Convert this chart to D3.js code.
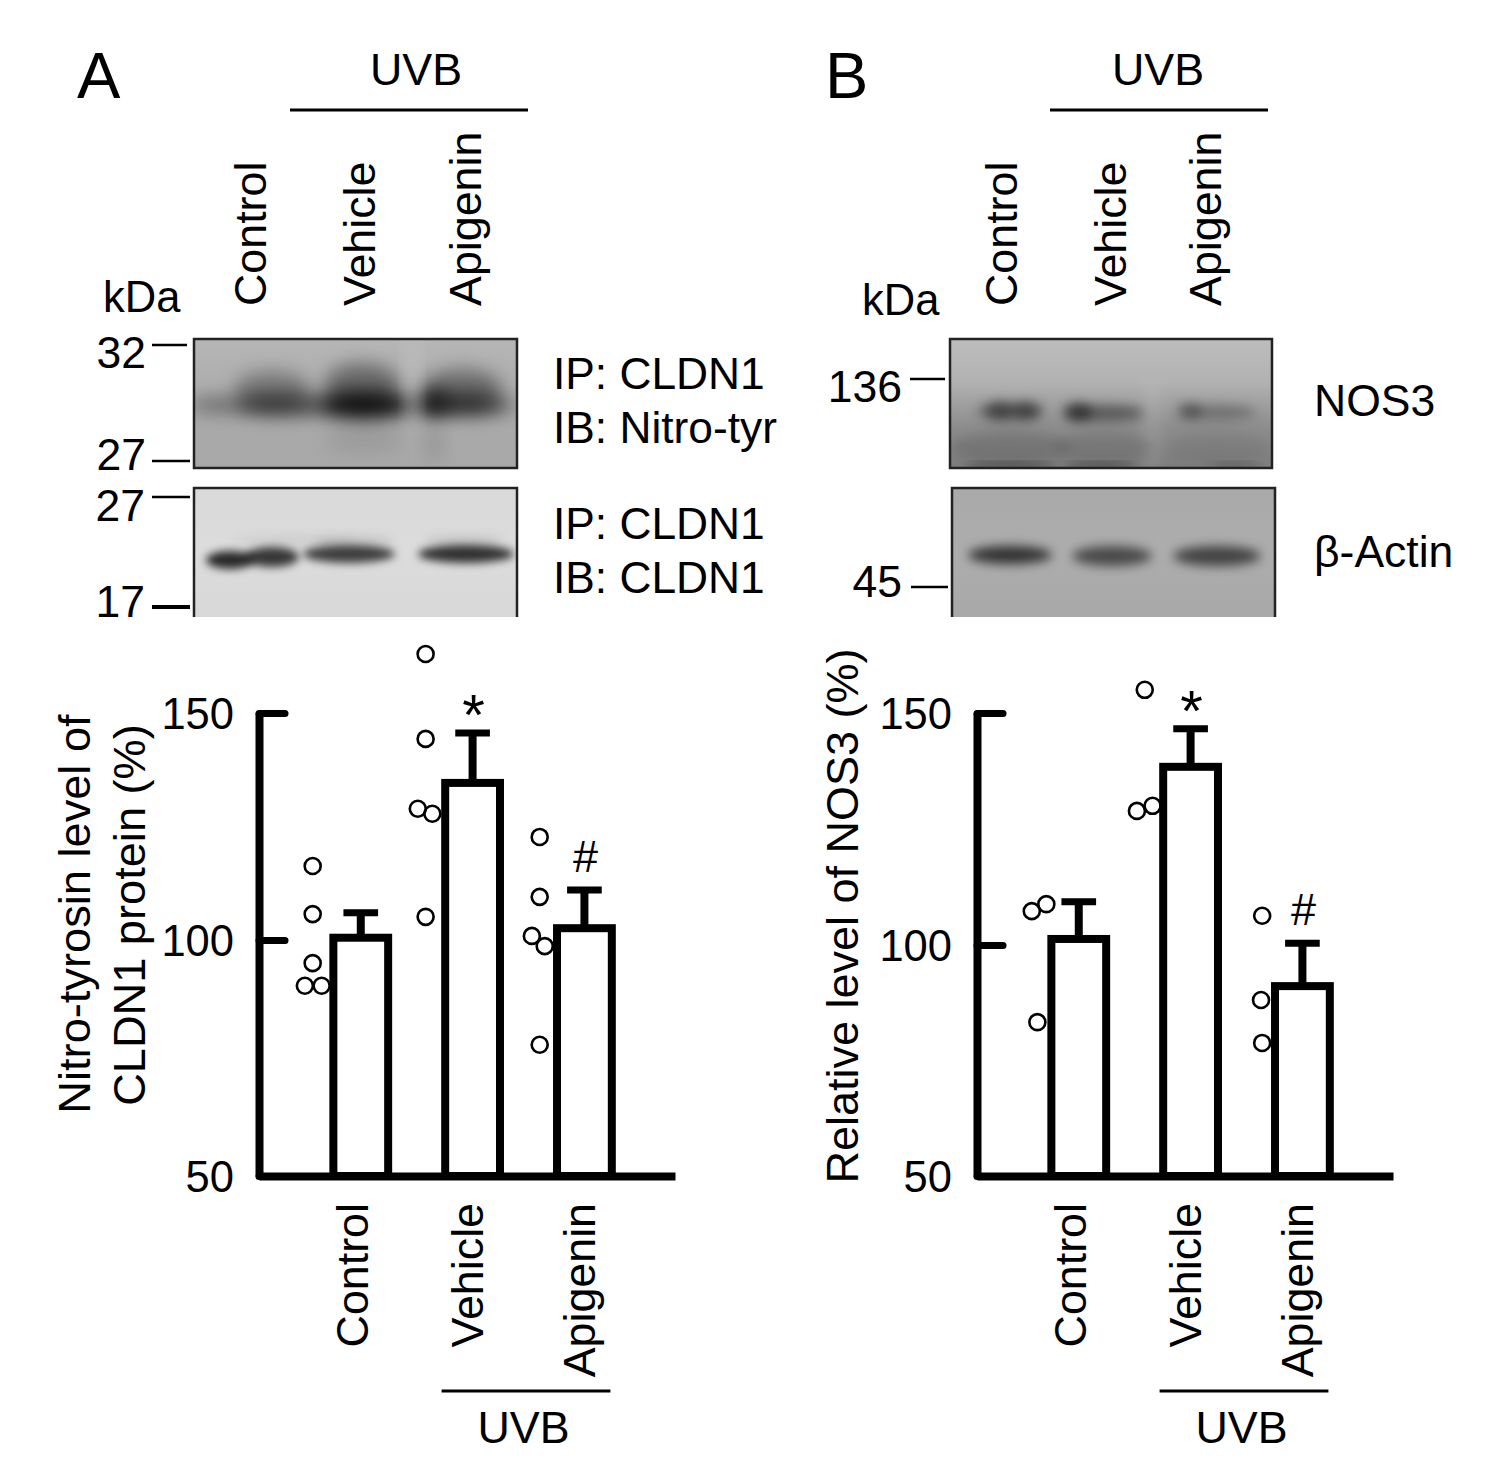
<!DOCTYPE html>
<html>
<head>
<meta charset="utf-8">
<title>Apigenin UVB</title>
<style>
  body { margin: 0; background: #fff; }
  text { font-family: "Liberation Sans", Arial, sans-serif; fill: #000; }
</style>
</head>
<body>
<script src="https://d3js.org/d3.v7.min.js"></script>
<script>
// categories and ticks
var categories = ["Control", "Vehicle", "Apigenin"];
var yTicks = [50, 100, 150];
var statMarks = ["", "*", "#"];

// panel A - nitro-tyrosin level
var barsA = [100.5, 134.6, 102.6];
var errorsA = [106, 145.6, 111];
var pointsValueA = [116.3, 105.7, 95.1, 90.3, 90.3, 163, 144.3, 128.9, 127.8, 105.1, 122.7, 109.5, 100.9, 98.7, 77.8];
var pointsGroupA = [0.57, 0.57, 0.57, 0.5, 0.65, 1.58, 1.58, 1.51, 1.64, 1.58, 2.6, 2.6, 2.53, 2.645, 2.6];

// panel B - relative NOS3
var barsB = [101.3, 138.4, 91.1];
var errorsB = [109.3, 146.6, 100.4];
var pointsValueB = [107.3, 108.8, 83.3, 155, 128.9, 130, 106.3, 88.1, 78.8];
var pointsGroupB = [0.58, 0.71, 0.63, 1.59, 1.52, 1.66, 2.64, 2.63, 2.64];

var svg = d3.select("body").append("svg")
  .attr("width", 1501)
  .attr("height", 1484)
  .style("display", "block");
var defs = svg.append("defs");

function addText(str, x, y, size, rotated, anchor) {
  var t = svg.append("text")
    .attr("font-size", size)
    .attr("text-anchor", anchor || "start")
    .text(str);
  if (rotated) t.attr("transform", "translate(" + x + "," + y + ") rotate(-90)");
  else t.attr("x", x).attr("y", y);
  return t;
}

function addLine(x1, x2, y, w) {
  svg.append("line")
    .attr("x1", x1).attr("x2", x2)
    .attr("y1", y).attr("y2", y)
    .attr("stroke", "#000")
    .attr("stroke-width", w);
}

// western blot strips, smudges are [cx, cy, rx, ry, opacity] inside the strip
function drawBlot(id, x, y, w, h, colors, blur, smudges, closedBottom) {
  var grad = defs.append("linearGradient").attr("id", id + "g")
    .attr("x1", 0).attr("x2", 0).attr("y1", 0).attr("y2", 1);
  colors.forEach(function(c, i) {
    grad.append("stop").attr("offset", i / (colors.length - 1)).attr("stop-color", c);
  });
  defs.append("clipPath").attr("id", id + "c")
    .append("rect").attr("width", w).attr("height", h);
  defs.append("filter").attr("id", id + "f")
    .attr("x", "-50%").attr("y", "-100%").attr("width", "200%").attr("height", "300%")
    .append("feGaussianBlur").attr("stdDeviation", blur);

  var g = svg.append("g").attr("transform", "translate(" + x + "," + y + ")");
  var inner = g.append("g").attr("clip-path", "url(#" + id + "c)");
  inner.append("rect").attr("width", w).attr("height", h).attr("fill", "url(#" + id + "g)");
  inner.selectAll("ellipse").data(smudges).enter().append("ellipse")
    .attr("cx", function(d) { return d[0]; })
    .attr("cy", function(d) { return d[1]; })
    .attr("rx", function(d) { return d[2]; })
    .attr("ry", function(d) { return d[3]; })
    .attr("fill", function(d) { return d[4] < 0 ? "#fff" : "#000"; })
    .attr("fill-opacity", function(d) { return Math.abs(d[4]); })
    .attr("filter", "url(#" + id + "f)");

  var outline = closedBottom
    ? "M0," + h + "V0H" + w + "V" + h + "Z"
    : "M0," + h + "V0H" + w + "V" + h;
  g.append("path").attr("d", outline)
    .attr("fill", "none")
    .attr("stroke", "#222")
    .attr("stroke-width", 2.5);
}

drawBlot("a1", 194, 339, 323, 129, ["#b6b6b6", "#aaaaaa", "#a8a8a8"], 9, [
  [160, 66, 170, 9, 0.28],
  [20, 66, 20, 8, 0.2],
  [78, 50, 38, 18, 0.3], [84, 66, 46, 10, 0.5],
  [168, 46, 38, 22, 0.4], [170, 66, 46, 13, 0.85],
  [268, 50, 40, 20, 0.38], [270, 66, 44, 10, 0.58], [240, 64, 13, 14, 0.65],
  [170, 100, 40, 14, 0.08], [240, 105, 10, 18, 0.1],
  [218, 40, 7, 50, -0.15]
], true);

drawBlot("a2", 194, 488, 323, 129, ["#d9d9d9", "#dcdcdc", "#d8d8d8"], 4.5, [
  [36, 72, 24, 9, 0.82], [78, 69, 27, 10, 0.75],
  [155, 66, 46, 9, 0.72], [272, 66, 48, 9, 0.78],
  [100, 52, 60, 6, 0.05], [160, 52, 40, 6, 0.08], [270, 52, 40, 6, 0.08]
], false);

drawBlot("b1", 950, 339, 322, 129, ["#bdbdbd", "#b2b2b2", "#8e8e8e", "#7c7c7c"], 6, [
  [50, 72, 14, 9, 0.42], [76, 72, 14, 9, 0.42], [60, 72, 34, 8, 0.3],
  [128, 73, 14, 9, 0.5], [155, 74, 40, 8, 0.42],
  [240, 72, 12, 8, 0.32], [268, 73, 38, 7, 0.28],
  [60, 108, 60, 16, 0.12], [155, 108, 50, 16, 0.1], [268, 108, 50, 16, 0.06],
  [60, 127, 46, 2, 0.8], [150, 127, 36, 2, 0.8], [285, 127, 26, 2, 0.45],
  [202, 90, 10, 50, -0.08]
], true);

drawBlot("b2", 952, 488, 323, 129, ["#a9a9a9", "#adadad", "#a8a8a8"], 5.5, [
  [58, 67, 42, 9, 0.72], [160, 68, 40, 10, 0.58], [265, 68, 44, 10, 0.62]
], false);

// panel letters and header text
addText("A", 77, 98, 65);
addText("B", 825, 98, 65);
addText("UVB", 370, 85, 44.8);
addLine(290, 528, 110, 3);
addText("UVB", 1112, 85, 44.8);
addLine(1050, 1268, 110, 3);

var headerXA = [266, 375, 481];
var headerXB = [1017, 1126, 1221];
categories.forEach(function(c, i) {
  addText(c, headerXA[i], 306, 44.8, true);
  addText(c, headerXB[i], 306, 44.8, true);
});

addText("kDa", 103, 312, 43.5);
addText("kDa", 862, 315, 43.5);

// molecular weight markers
addText("32", 146, 368, 44.5, false, "end");
addLine(152, 187, 345, 2.5);
addText("27", 146, 470, 44.5, false, "end");
addLine(152, 190, 461, 2.5);
addText("27", 145, 521, 44.5, false, "end");
addLine(152, 190, 497, 2.5);
addText("17", 145, 617, 44.5, false, "end");
addLine(152, 190, 607, 4);
addText("136", 902, 402, 44.5, false, "end");
addLine(910, 945, 379, 2.5);
addText("45", 902, 597, 44.5, false, "end");
addLine(911, 948, 587, 2.5);

// blot names
addText("IP: CLDN1", 553, 389, 44.3);
addText("IB: Nitro-tyr", 553, 443, 44.3);
addText("IP: CLDN1", 553, 539, 44.3);
addText("IB: CLDN1", 553, 593, 44.3);
addText("NOS3", 1314, 416, 44.5);
addText("β-Actin", 1314, 567, 44.5);

// y labels
addText("Nitro-tyrosin level of", 90, 914, 45.2, true, "middle");
addText("CLDN1 protein (%)", 145, 915, 45.2, true, "middle");
addText("Relative level of NOS3 (%)", 858, 916, 45, true, "middle");

function drawChart(left, right, yStops, bars, errors, pointsGroup, pointsValue) {
  var x = d3.scaleLinear().domain([0.09, 3.81]).range([left, right]);
  var y = d3.scaleLinear().domain(yTicks).range(yStops);
  var base = y(50);
  var barW = x(1.49) - x(1);
  var capW = x(1.155) - x(1);
  var groups = d3.range(1, categories.length + 1);

  var chart = svg.append("g");

  // points go under the bars, bars cut them off
  chart.selectAll("circle").data(pointsValue).enter().append("circle")
    .attr("cx", function(d, i) { return x(pointsGroup[i]); })
    .attr("cy", function(d) { return y(d); })
    .attr("r", 8)
    .attr("fill", "none")
    .attr("stroke", "#000")
    .attr("stroke-width", 2.6);

  chart.selectAll("line.stem").data(errors).enter().append("line")
    .attr("class", "stem")
    .attr("x1", function(d, i) { return x(groups[i]); })
    .attr("x2", function(d, i) { return x(groups[i]); })
    .attr("y1", function(d) { return y(d); })
    .attr("y2", function(d, i) { return y(bars[i]); })
    .attr("stroke", "#000")
    .attr("stroke-width", 8);

  chart.selectAll("line.cap").data(errors).enter().append("line")
    .attr("class", "cap")
    .attr("x1", function(d, i) { return x(groups[i]) - capW; })
    .attr("x2", function(d, i) { return x(groups[i]) + capW; })
    .attr("y1", function(d) { return y(d); })
    .attr("y2", function(d) { return y(d); })
    .attr("stroke", "#000")
    .attr("stroke-width", 7);

  chart.selectAll("rect").data(bars).enter().append("rect")
    .attr("x", function(d, i) { return x(groups[i]) - barW / 2; })
    .attr("y", function(d) { return y(d); })
    .attr("width", barW)
    .attr("height", function(d) { return base - y(d); })
    .attr("fill", "#fff")
    .attr("stroke", "#000")
    .attr("stroke-width", 8);

  chart.selectAll("text.stat").data(statMarks).enter().append("text")
    .attr("class", "stat")
    .attr("text-anchor", "middle")
    .attr("font-size", function(d) { return d === "*" ? 58 : 45; })
    .attr("x", function(d, i) { return x(groups[i]) + 1; })
    .attr("y", function(d, i) { return y(errors[i]) + (d === "*" ? 2 : -18); })
    .text(function(d) { return d; });

  // axes
  var yAxis = d3.axisLeft(y)
    .tickValues(yTicks)
    .tickSize(-26)
    .tickSizeOuter(0)
    .tickPadding(25)
    .tickFormat(d3.format("d"));
  var gy = svg.append("g").attr("transform", "translate(" + left + ",0)").call(yAxis);
  gy.select(".domain").attr("stroke-width", 8);
  gy.selectAll(".tick line").attr("stroke-width", 7).attr("stroke-linecap", "round");
  gy.selectAll(".tick text")
    .attr("font-size", 43.5)
    .attr("font-family", "Liberation Sans")
    .attr("dy", "0.36em");

  var xAxis = d3.axisBottom(x)
    .tickValues(groups)
    .tickSize(0)
    .tickSizeOuter(0)
    .tickFormat(function(d) { return categories[d - 1]; });
  var gx = svg.append("g").attr("transform", "translate(0," + base + ")").call(xAxis);
  gx.select(".domain").attr("stroke-width", 8);
  gx.selectAll(".tick text")
    .attr("font-size", 44.8)
    .attr("font-family", "Liberation Sans")
    .attr("text-anchor", "end")
    .attr("dy", 0)
    .attr("y", 0)
    .attr("transform", function(d) { return "translate(" + (d === 1 ? 7 : 10) + ",27) rotate(-90)"; });

  // UVB bracket under the treated groups
  addLine(x(2) - 31, x(3) + 26, 1391, 3);
  addText("UVB", (x(2) + x(3)) / 2 - 5, 1443, 44.8, false, "middle");
}

drawChart(259, 675, [1176, 940, 713], barsA, errorsA, pointsGroupA, pointsValueA);
drawChart(977, 1393, [1176, 945, 713], barsB, errorsB, pointsGroupB, pointsValueB);
</script>
</body>
</html>
